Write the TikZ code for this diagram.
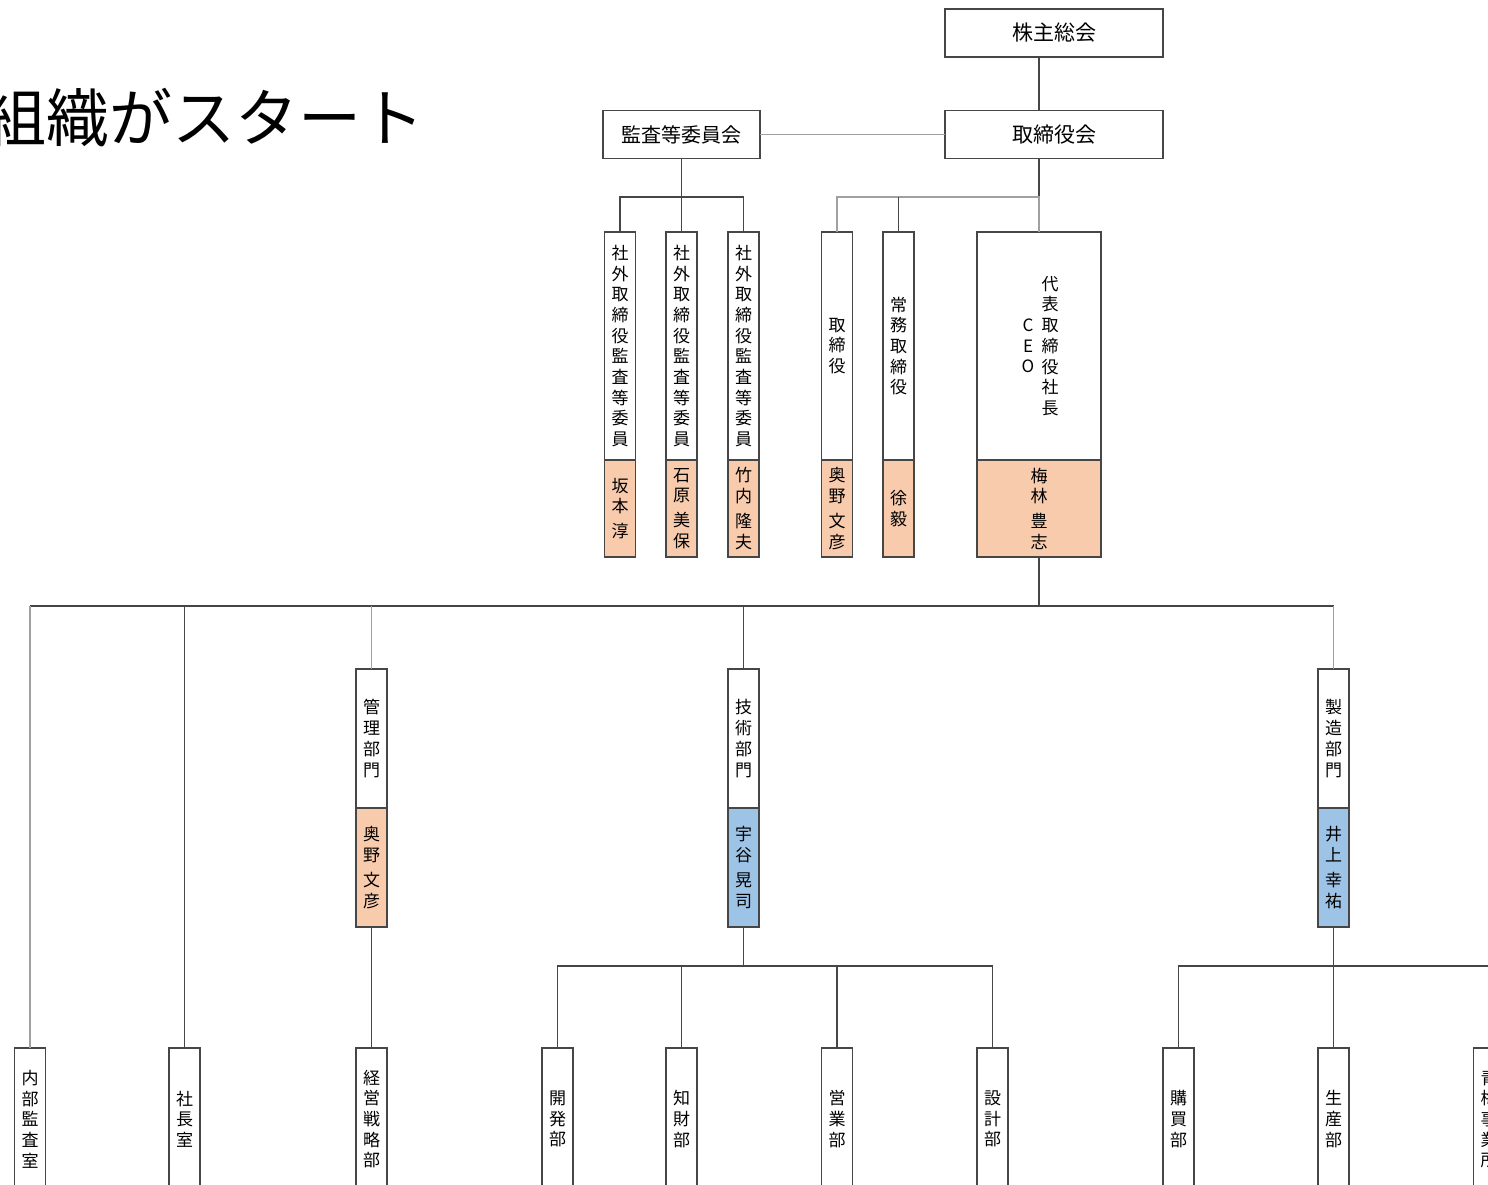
\documentclass[tikz,border=0pt]{standalone}
\usepackage{fontspec}
\setmainfont{Noto Sans CJK JP}
\usetikzlibrary{positioning}
\definecolor{dark_gray}{RGB}{70,70,70}
\definecolor{light_gray}{RGB}{160,160,160}
\definecolor{name_peach}{RGB}{248,203,173}
\definecolor{name_blue}{RGB}{157,195,230}

\begin{document}
\begin{tikzpicture}[x=1pt,y=-1pt,font=\fontsize{17}{20.7}\selectfont,
    post/.style={draw=dark_gray,line width=1.4pt,fill=white,inner sep=0pt,outer sep=0pt,
        minimum width=31pt,align=center},
    head/.style={post,minimum width=218pt,minimum height=48pt,font=\fontsize{21}{24}\selectfont},
    exec/.style={post,minimum height=228pt},
    exec name/.style={post,fill=name_peach,minimum height=97pt},
    div/.style={post,minimum height=139pt},
    div name/.style={post,minimum height=119pt},
    dept/.style={post,minimum height=142pt},
    link/.style={draw=dark_gray,line width=1.4pt},
    link light/.style={draw=light_gray,line width=1.4pt}]

    \useasboundingbox (0,0) rectangle (1488,1184);
    \fill[white] (0,0) rectangle (1488,1184);

    \node[anchor=west,inner sep=0pt,font=\fontsize{63}{63}\selectfont] (title) at (-17,118) {組織がスタート};

    % top
    \node[head] (soukai) at (1054,33) {株主総会};
    \node[head] (board) at (1054,134.5) {取締役会};
    \node[head,minimum width=157pt,font=\fontsize{20}{24}\selectfont] (kansa) at (681.5,134.5) {監査等委員会};

    % officers
    \node[exec] (gai1) at (620,346) {社\\外\\取\\締\\役\\監\\査\\等\\委\\員};
    \node[exec] (gai2) at (681.5,346) {社\\外\\取\\締\\役\\監\\査\\等\\委\\員};
    \node[exec] (gai3) at (743.5,346) {社\\外\\取\\締\\役\\監\\査\\等\\委\\員};
    \node[exec] (tori) at (837,346) {取\\締\\役};
    \node[exec] (joumu) at (898.5,346) {常\\務\\取\\締\\役};
    \node[exec,minimum width=124pt] (ceo) at (1039,346) {};
    \node[inner sep=0pt,align=center] (ceo_title) at ([xshift=11pt]ceo.center) {代\\表\\取\\締\\役\\社\\長};
    \node[inner sep=0pt,align=center] (ceo_en) at ([xshift=-11pt]ceo.center) {C\\E\\O};

    \node[exec name,below=0pt of gai1] (gai1_name) {坂\\本\\[4pt]淳};
    \node[exec name,below=0pt of gai2] (gai2_name) {石\\原\\[4pt]美\\保};
    \node[exec name,below=0pt of gai3] (gai3_name) {竹\\内\\[4pt]隆\\夫};
    \node[exec name,below=0pt of tori] (tori_name) {奥\\野\\[4pt]文\\彦};
    \node[exec name,below=0pt of joumu] (joumu_name) {徐\\毅};
    \node[exec name,minimum width=124pt,below=0pt of ceo] (ceo_name) {梅\\林\\[4pt]豊\\志};

    % divisions
    \node[div] (kanri) at (371.5,738.5) {管\\理\\部\\門};
    \node[div] (gijutsu) at (743.5,738.5) {技\\術\\部\\門};
    \node[div] (seizou) at (1333.5,738.5) {製\\造\\部\\門};
    \node[div name,fill=name_peach,below=0pt of kanri] (kanri_name) {奥\\野\\[4pt]文\\彦};
    \node[div name,fill=name_blue,below=0pt of gijutsu] (gijutsu_name) {宇\\谷\\[4pt]晃\\司};
    \node[div name,fill=name_blue,below=0pt of seizou] (seizou_name) {井\\上\\[4pt]幸\\祐};

    % departments
    \node[dept] (naibu) at (30,1119) {内\\部\\監\\査\\室};
    \node[dept] (shachou) at (184.5,1119) {社\\長\\室};
    \node[dept] (keiei) at (371.5,1119) {経\\営\\戦\\略\\部};
    \node[dept] (kaihatsu) at (557.5,1119) {開\\発\\部};
    \node[dept] (chizai) at (681.5,1119) {知\\財\\部};
    \node[dept] (eigyou) at (837,1119) {営\\業\\部};
    \node[dept] (sekkei) at (992.5,1119) {設\\計\\部};
    \node[dept] (koubai) at (1178.5,1119) {購\\買\\部};
    \node[dept] (seisan) at (1333.5,1119) {生\\産\\部};
    \node[dept] (oume) at (1489,1119) {青\\梅\\事\\業\\所};

    \coordinate (main_bus) at (0,606);
    \coordinate (tech_bus) at (0,966);

    % connectors
    \draw[link] (soukai.south -| ceo.north) -- (board.north -| ceo.north);
    \draw[link light] (kansa.east) -- (board.west);
    \draw[link] (kansa.south) -- (gai2.north);
    \draw[link] (gai1.north) -- ++(0,-35) -| (gai3.north);
    \draw[link] (board.south -| ceo.north) -- (ceo.north);
    \draw[link light] (tori.north) -- ++(0,-35) -| (ceo.north);
    \draw[link] (joumu.north) -- ++(0,-35);

    \draw[link] (ceo_name.south) -- (ceo_name.south |- main_bus);
    \draw[link] (naibu.north |- main_bus) -- (seizou.north |- main_bus);
    \draw[link light] (naibu.north) -- (naibu.north |- main_bus);
    \draw[link] (shachou.north) -- (shachou.north |- main_bus);
    \draw[link light] (kanri.north) -- (kanri.north |- main_bus);
    \draw[link] (gijutsu.north) -- (gijutsu.north |- main_bus);
    \draw[link light] (seizou.north) -- (seizou.north |- main_bus);
    \draw[link] (kanri_name.south) -- (keiei.north);

    \draw[link] (gijutsu_name.south) -- (gijutsu_name.south |- tech_bus);
    \draw[link] (kaihatsu.north) -- (kaihatsu.north |- tech_bus) -- (sekkei.north |- tech_bus) -- (sekkei.north);
    \draw[link] (chizai.north) -- (chizai.north |- tech_bus);
    \draw[link] (eigyou.north) -- (eigyou.north |- tech_bus);

    \draw[link] (seizou_name.south) -- (seizou_name.south |- tech_bus);
    \draw[link] (koubai.north) -- (koubai.north |- tech_bus) -- (oume.north |- tech_bus) -- (oume.north);
    \draw[link] (seisan.north) -- (seisan.north |- tech_bus);
\end{tikzpicture}
\end{document}
